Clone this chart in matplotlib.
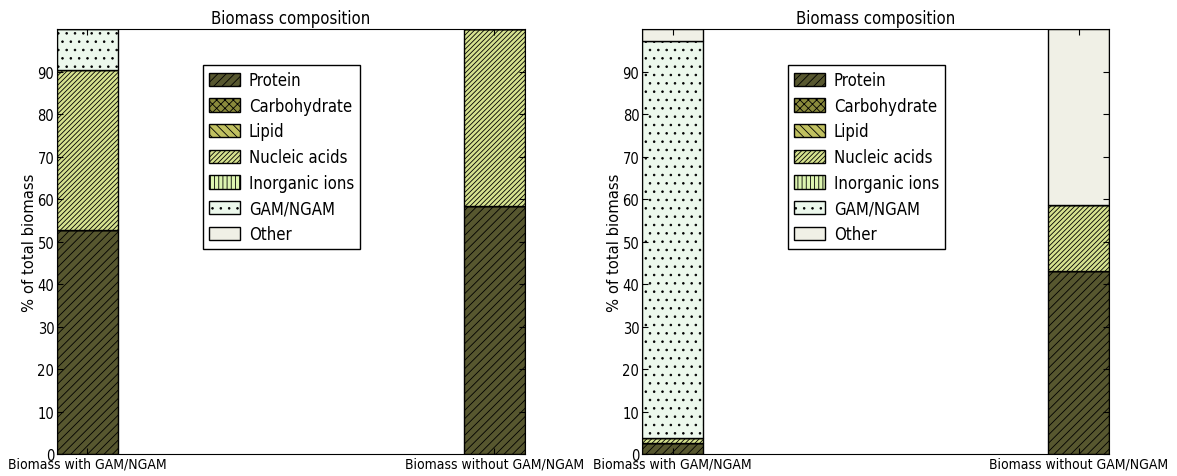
import numpy as np
import matplotlib
matplotlib.use('Agg')
import matplotlib.pyplot as plt

# biomass components, bottom to top
components = ['Protein', 'Carbohydrate', 'Lipid', 'Nucleic acids',
              'Inorganic ions', 'GAM/NGAM', 'Other']
colors = ['#57572f', '#8a8a3c', '#c0c060', '#d6e28f', '#ddf5b0', '#ecf8ec', '#f0f0e6']
hatches = ['////', 'xxxx', '\\\\\\\\', '///////', '||||', '..', '']

bar_labels = ['Biomass with GAM/NGAM', 'Biomass without GAM/NGAM']

# % of total biomass, one list per component: [with GAM/NGAM, without GAM/NGAM]
left_values = {
    'Protein': [52.8, 58.4],
    'Carbohydrate': [0.0, 0.0],
    'Lipid': [0.0, 0.0],
    'Nucleic acids': [37.5, 41.6],
    'Inorganic ions': [0.0, 0.0],
    'GAM/NGAM': [9.7, 0.0],
    'Other': [0.0, 0.0],
}
right_values = {
    'Protein': [2.7, 43.1],
    'Carbohydrate': [0.0, 0.0],
    'Lipid': [0.0, 0.0],
    'Nucleic acids': [1.0, 15.4],
    'Inorganic ions': [0.0, 0.0],
    'GAM/NGAM': [93.5, 0.0],
    'Other': [2.8, 41.5],
}

plt.rcParams['font.family'] = 'DejaVu Sans'
plt.rcParams['hatch.linewidth'] = 0.6

width = 0.15
x = np.arange(len(bar_labels))

fig = plt.figure(figsize=(11.77, 4.77), dpi=100)
axes = [fig.add_axes([0.0484, 0.046, 0.3976, 0.891]),
        fig.add_axes([0.5455, 0.046, 0.3970, 0.891])]

for ax, values in zip(axes, [left_values, right_values]):
    bottom = np.zeros(len(bar_labels))
    for comp, col, h in zip(components, colors, hatches):
        v = np.array(values[comp])
        ax.bar(x, v, width, bottom=bottom, color=col, edgecolor='black',
               hatch=h, linewidth=1.0, label=comp)
        bottom += v
    ax.set_xlim(-width / 2, 1 + width / 2)
    ax.set_ylim(0, 100)
    ax.set_yticks(range(0, 100, 10))
    ax.set_xticks(x)
    ax.set_xticklabels(bar_labels, fontsize=10, fontstretch='condensed')
    for t in ax.get_yticklabels():
        t.set_fontsize(10.5)
        t.set_fontstretch('condensed')
    ax.tick_params(direction='in', top=True, right=True, length=4, pad=2)
    ax.set_ylabel('% of total biomass', fontsize=10.6, labelpad=0)
    ax.set_title('Biomass composition', fontsize=12, fontstretch='condensed', pad=4.5)
    leg = ax.legend(loc='upper left', bbox_to_anchor=(0.312, 0.915), borderaxespad=0,
                    fontsize=12, fancybox=False, framealpha=1, edgecolor='black',
                    handlelength=1.86, handleheight=0.85, handletextpad=0.55,
                    labelspacing=0.46, borderpad=0.35)
    leg.get_frame().set_linewidth(1.0)
    for t in leg.get_texts():
        t.set_fontstretch('condensed')

fig.savefig('out.png', dpi=100)
